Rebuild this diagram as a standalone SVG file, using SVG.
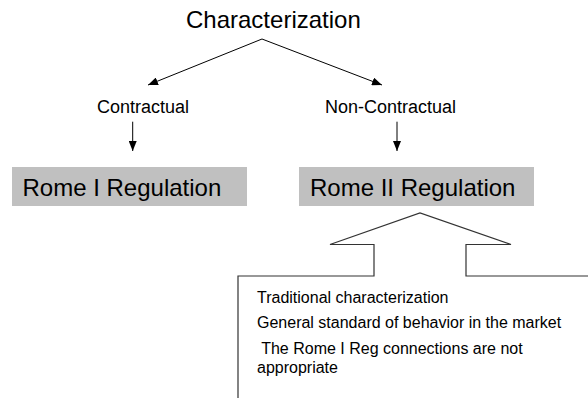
<svg xmlns="http://www.w3.org/2000/svg" width="588" height="398" viewBox="0 0 588 398">
<style>
text{font-family:"Liberation Sans",Arial,sans-serif;fill:#000}
.t1{font-size:24px}
.t2{font-size:18px}
.t3{font-size:24px}
.t4{font-size:16px}
.box{fill:#c0c0c0}
.ln{stroke:#000;stroke-width:1;fill:none}
.sh{stroke:#333;stroke-width:1.2;fill:none}
</style>
<defs>
<marker id="ah" markerWidth="10" markerHeight="8" refX="10" refY="4" orient="auto" markerUnits="userSpaceOnUse">
<path d="M0,0 L10,4 L0,8 Z" fill="#000"/>
</marker>
</defs>
<rect width="588" height="398" fill="#fff"/>
<g id="characterization"><text class="t1" x="186" y="27.5">Characterization</text></g>
<g id="contractual"><text class="t2" x="97" y="112.7">Contractual</text></g>
<g id="noncontractual"><text class="t2" x="325" y="112.7">Non-Contractual</text></g>
<g id="rome1"><rect class="box" x="12" y="167" width="235" height="39"/><text class="t3" x="22.5" y="195.7">Rome I Regulation</text></g>
<g id="rome2"><rect class="box" x="299" y="167" width="235" height="39"/><text class="t3" x="310" y="195.7">Rome II Regulation</text></g>
<g id="details">
<path class="sh" d="M238,399 V276 H374 V244.5 H330 L420,213 L511,244.5 H466 V276 H589"/>
<text class="t4" x="257" y="302.7">Traditional characterization</text>
<text class="t4" x="257" y="328.3">General standard of behavior in the market</text>
<text class="t4" x="257" y="354.3" xml:space="preserve"> The Rome I Reg connections are not</text>
<text class="t4" x="257" y="372.5">appropriate</text>
</g>
<g id="connectors">
<line class="ln" x1="262" y1="39" x2="148" y2="85" marker-end="url(#ah)"/>
<line class="ln" x1="262" y1="39" x2="382" y2="85" marker-end="url(#ah)"/>
<line class="ln" x1="132.7" y1="121.7" x2="132.7" y2="151" marker-end="url(#ah)"/>
<line class="ln" x1="397" y1="121.7" x2="397" y2="151" marker-end="url(#ah)"/>
</g>
</svg>
